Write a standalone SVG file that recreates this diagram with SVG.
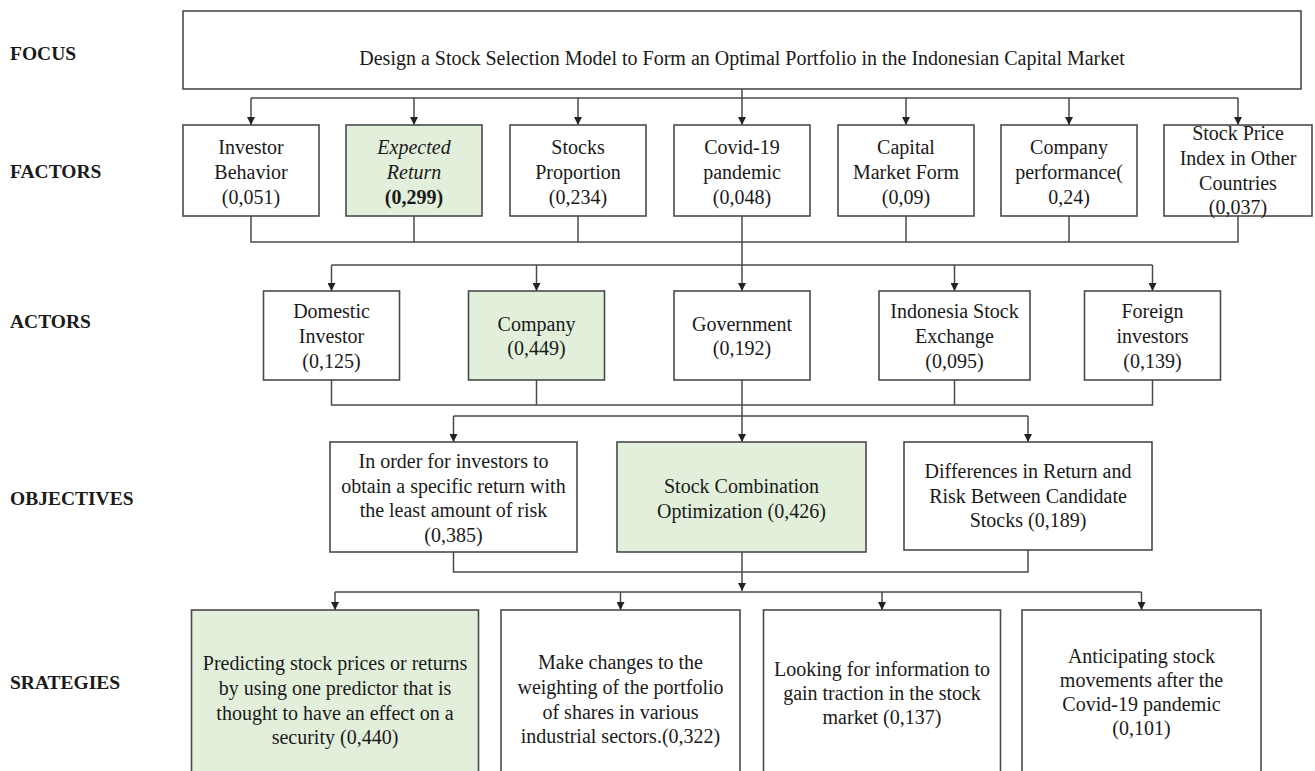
<svg xmlns="http://www.w3.org/2000/svg" width="1315" height="771" viewBox="0 0 1315 771">
<style>
.bg{fill:#ffffff}
.box{fill:#ffffff;stroke:#4a4a4a;stroke-width:1.6}
.hl{fill:#e2efda}
.t{font-family:"Liberation Serif","Times New Roman",serif;font-size:20px;fill:#1a1a1a;text-anchor:middle}
.lbl{font-family:"Liberation Serif","Times New Roman",serif;font-size:19.5px;font-weight:bold;fill:#1a1a1a}
.c{fill:none;stroke:#4a4a4a;stroke-width:1.5}
.a{fill:none;stroke:#4a4a4a;stroke-width:1.5;marker-end:url(#ah)}
.i{font-style:italic}
.b{font-weight:bold}
</style>
<defs>
<marker id="ah" viewBox="0 0 8 8" refX="8" refY="4" markerWidth="8" markerHeight="8" markerUnits="userSpaceOnUse" orient="auto">
<path d="M0,0 L8,4 L0,8 z" fill="#222"/>
</marker>
</defs>
<rect class="bg" x="0" y="0" width="1315" height="771"/>

<g id="labels">
<text class="lbl" x="10" y="60">FOCUS</text>
<text class="lbl" x="10" y="178">FACTORS</text>
<text class="lbl" x="10" y="328">ACTORS</text>
<text class="lbl" x="10" y="505">OBJECTIVES</text>
<text class="lbl" x="10" y="689">SRATEGIES</text>
</g>

<g id="connectors">
<path class="c" d="M742,89 V98 M251,98 H1238"/>
<path class="a" d="M251,98 V125"/>
<path class="a" d="M414,98 V125"/>
<path class="a" d="M578,98 V125"/>
<path class="a" d="M742,98 V125"/>
<path class="a" d="M906,98 V125"/>
<path class="a" d="M1069,98 V125"/>
<path class="a" d="M1238,98 V125"/>
<path class="c" d="M251,216 V242 H1238 V216 M414,216 V242 M578,216 V242 M742,216 V265 M906,216 V242 M1069,216 V242"/>
<path class="c" d="M331.5,265 H1152.5"/>
<path class="a" d="M331.5,265 V291"/>
<path class="a" d="M536.5,265 V291"/>
<path class="a" d="M742,265 V291"/>
<path class="a" d="M954.5,265 V291"/>
<path class="a" d="M1152.5,265 V291"/>
<path class="c" d="M331.5,380 V405 H1152.5 V380 M536.5,380 V405 M954.5,380 V405 M742,380 V416 M453.5,416 H1028"/>
<path class="a" d="M453.5,416 V442"/>
<path class="a" d="M742,416 V442"/>
<path class="a" d="M1028,416 V442"/>
<path class="c" d="M453.5,552 V572 H1028 V550 M742,552 V572"/>
<path class="a" d="M742,572 V591"/>
<path class="c" d="M335,592 H1141.5"/>
<path class="a" d="M335,592 V610"/>
<path class="a" d="M620.5,592 V610"/>
<path class="a" d="M882,592 V610"/>
<path class="a" d="M1141.5,592 V610"/>
</g>

<g id="focus">
<rect class="box" x="183" y="11" width="1118" height="78"/>
<text class="t" x="742" y="65">Design a Stock Selection Model to Form an Optimal Portfolio in the Indonesian Capital Market</text>
</g>

<g id="f-investor-behavior">
<rect class="box" x="183" y="125" width="136" height="91"/>
<text class="t" x="251" y="154">Investor</text>
<text class="t" x="251" y="179">Behavior</text>
<text class="t" x="251" y="204">(0,051)</text>
</g>
<g id="f-expected-return">
<rect class="box hl" x="346" y="125" width="136" height="91"/>
<text class="t i" x="414" y="154">Expected</text>
<text class="t i" x="414" y="179">Return</text>
<text class="t b" x="414" y="204">(0,299)</text>
</g>
<g id="f-stocks-proportion">
<rect class="box" x="510" y="125" width="136" height="91"/>
<text class="t" x="578" y="154">Stocks</text>
<text class="t" x="578" y="179">Proportion</text>
<text class="t" x="578" y="204">(0,234)</text>
</g>
<g id="f-covid">
<rect class="box" x="674" y="125" width="136" height="91"/>
<text class="t" x="742" y="154">Covid-19</text>
<text class="t" x="742" y="179">pandemic</text>
<text class="t" x="742" y="204">(0,048)</text>
</g>
<g id="f-capital-market-form">
<rect class="box" x="838" y="125" width="136" height="91"/>
<text class="t" x="906" y="154">Capital</text>
<text class="t" x="906" y="179">Market Form</text>
<text class="t" x="906" y="204">(0,09)</text>
</g>
<g id="f-company-performance">
<rect class="box" x="1001" y="125" width="136" height="91"/>
<text class="t" x="1069" y="154">Company</text>
<text class="t" x="1069" y="179">performance(</text>
<text class="t" x="1069" y="204">0,24)</text>
</g>
<g id="f-stock-price-index">
<rect class="box" x="1164" y="125" width="148" height="91"/>
<text class="t" x="1238" y="140">Stock Price</text>
<text class="t" x="1238" y="165">Index in Other</text>
<text class="t" x="1238" y="190">Countries</text>
<text class="t" x="1238" y="214">(0,037)</text>
</g>

<g id="a-domestic-investor">
<rect class="box" x="263.5" y="291" width="136" height="89"/>
<text class="t" x="331.5" y="318">Domestic</text>
<text class="t" x="331.5" y="343">Investor</text>
<text class="t" x="331.5" y="368">(0,125)</text>
</g>
<g id="a-company">
<rect class="box hl" x="468.5" y="291" width="136" height="89"/>
<text class="t" x="536.5" y="331">Company</text>
<text class="t" x="536.5" y="355">(0,449)</text>
</g>
<g id="a-government">
<rect class="box" x="674" y="291" width="136" height="89"/>
<text class="t" x="742" y="331">Government</text>
<text class="t" x="742" y="355">(0,192)</text>
</g>
<g id="a-idx">
<rect class="box" x="879" y="291" width="151" height="89"/>
<text class="t" x="954.5" y="318">Indonesia Stock</text>
<text class="t" x="954.5" y="343">Exchange</text>
<text class="t" x="954.5" y="368">(0,095)</text>
</g>
<g id="a-foreign-investors">
<rect class="box" x="1084.5" y="291" width="136" height="89"/>
<text class="t" x="1152.5" y="318">Foreign</text>
<text class="t" x="1152.5" y="343">investors</text>
<text class="t" x="1152.5" y="368">(0,139)</text>
</g>

<g id="o-specific-return">
<rect class="box" x="330" y="442" width="247" height="110"/>
<text class="t" x="453.5" y="468">In order for investors to</text>
<text class="t" x="453.5" y="492.5">obtain a specific return with</text>
<text class="t" x="453.5" y="517">the least amount of risk</text>
<text class="t" x="453.5" y="542">(0,385)</text>
</g>
<g id="o-stock-combination">
<rect class="box hl" x="617" y="442" width="249" height="110"/>
<text class="t" x="741.5" y="492.5">Stock Combination</text>
<text class="t" x="741.5" y="517.5">Optimization (0,426)</text>
</g>
<g id="o-differences">
<rect class="box" x="904" y="442" width="248" height="108"/>
<text class="t" x="1028" y="477.5">Differences in Return and</text>
<text class="t" x="1028" y="502.5">Risk Between Candidate</text>
<text class="t" x="1028" y="527">Stocks (0,189)</text>
</g>

<g id="s-predicting">
<rect class="box hl" x="191.5" y="610" width="287" height="175"/>
<text class="t" x="335" y="670">Predicting stock prices or returns</text>
<text class="t" x="335" y="695">by using one predictor that is</text>
<text class="t" x="335" y="720">thought to have an effect on a</text>
<text class="t" x="335" y="744">security (0,440)</text>
</g>
<g id="s-weighting">
<rect class="box" x="501" y="610" width="239" height="175"/>
<text class="t" x="620.5" y="669">Make changes to the</text>
<text class="t" x="620.5" y="694">weighting of the portfolio</text>
<text class="t" x="620.5" y="719">of shares in various</text>
<text class="t" x="620.5" y="743">industrial sectors.(0,322)</text>
</g>
<g id="s-information">
<rect class="box" x="763.5" y="610" width="237" height="175"/>
<text class="t" x="882" y="676">Looking for information to</text>
<text class="t" x="882" y="700">gain traction in the stock</text>
<text class="t" x="882" y="724">market (0,137)</text>
</g>
<g id="s-anticipating">
<rect class="box" x="1022" y="610" width="239" height="175"/>
<text class="t" x="1141.5" y="663">Anticipating stock</text>
<text class="t" x="1141.5" y="687">movements after the</text>
<text class="t" x="1141.5" y="711">Covid-19 pandemic</text>
<text class="t" x="1141.5" y="735">(0,101)</text>
</g>
</svg>
